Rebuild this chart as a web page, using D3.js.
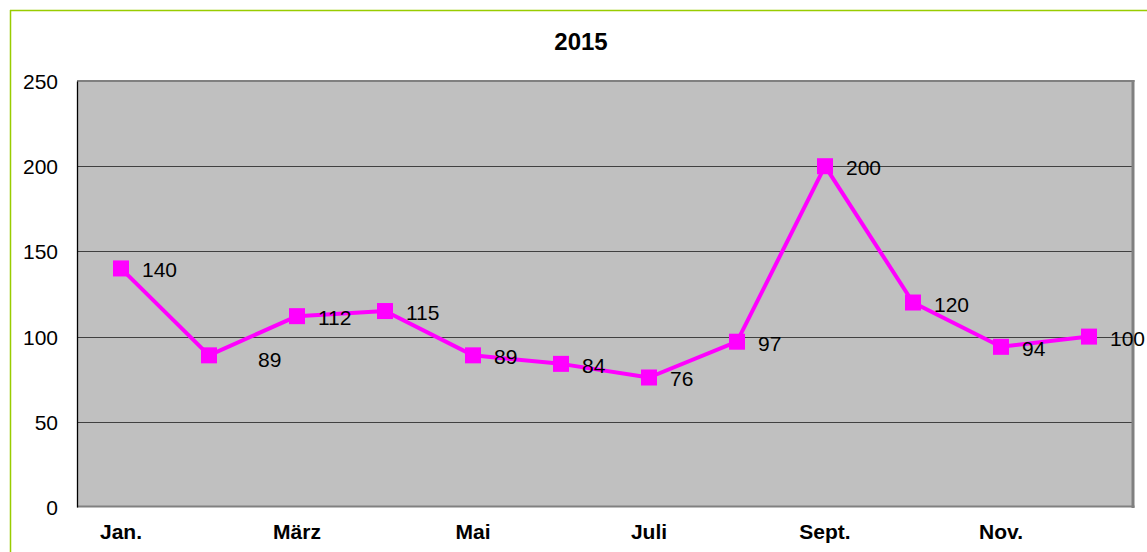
<!DOCTYPE html>
<html>
<head>
<meta charset="utf-8">
<script src="https://cdn.jsdelivr.net/npm/d3@7"></script>
<style>
  html, body { margin: 0; padding: 0; background: #ffffff; }
  svg { display: block; font-family: "Liberation Sans", Arial, sans-serif; }
</style>
</head>
<body>
<svg id="chart" width="1147" height="552"></svg>
<script>
// ---- data ----
const title = "2015";
const months = ["Jan.", "Feb.", "März", "April", "Mai", "Juni", "Juli", "Aug.", "Sept.", "Okt.", "Nov.", "Dez."];
const values = [140, 89, 112, 115, 89, 84, 76, 97, 200, 120, 94, 100];
const yTicks = [0, 50, 100, 150, 200, 250];

// ---- layout ----
const W = 1147, H = 552;
const plot = { left: 77, right: 1133, top: 81, bottom: 507 };
const labelNudges = { 1: [28, 2.5] }; // data-label placement tweak (Feb.)

const svg = d3.select("#chart");

// outer frame (green lines at top and left)
svg.append("line").attr("x1", 10).attr("y1", 10.5).attr("x2", W).attr("y2", 10.5)
  .attr("stroke", "#99cc00").attr("stroke-width", 1.5);
svg.append("line").attr("x1", 10.5).attr("y1", 10).attr("x2", 10.5).attr("y2", H)
  .attr("stroke", "#99cc00").attr("stroke-width", 1.5);

const x = d3.scaleBand().domain(months).range([plot.left, plot.right]).padding(0);
const y = d3.scaleLinear().domain([0, 250]).range([plot.bottom, plot.top]);
const cx = m => x(m) + x.bandwidth() / 2;

// plot area background
svg.append("rect")
  .attr("x", plot.left).attr("y", plot.top)
  .attr("width", plot.right - plot.left).attr("height", plot.bottom - plot.top)
  .attr("fill", "#c0c0c0");

// gridlines
svg.append("g").selectAll("line")
  .data(yTicks.filter(t => t > 0 && t < 250))
  .join("line")
  .attr("x1", plot.left).attr("x2", plot.right)
  .attr("y1", d => Math.round(y(d)) + 0.5).attr("y2", d => Math.round(y(d)) + 0.5)
  .attr("stroke", "#404040").attr("stroke-width", 1);

// plot area border (gray top/right/bottom)
svg.append("line").attr("x1", plot.left).attr("x2", plot.right + 1.5)
  .attr("y1", plot.top).attr("y2", plot.top).attr("stroke", "#808080").attr("stroke-width", 2);
svg.append("line").attr("x1", plot.right).attr("x2", plot.right)
  .attr("y1", plot.top - 1).attr("y2", plot.bottom + 1).attr("stroke", "#808080").attr("stroke-width", 3);
svg.append("line").attr("x1", plot.left).attr("x2", plot.right + 1.5)
  .attr("y1", plot.bottom - 0.5).attr("y2", plot.bottom - 0.5).attr("stroke", "#808080").attr("stroke-width", 2);

// y axis
const yAxis = svg.append("g")
  .attr("transform", `translate(${plot.left},0)`)
  .call(d3.axisLeft(y).tickValues(yTicks).tickSize(0).tickPadding(19));
yAxis.select(".domain").attr("stroke", "#000").attr("stroke-width", 1.3);
yAxis.selectAll("text").attr("font-size", 21).attr("fill", "#000")
  .attr("font-family", "Liberation Sans, Arial, sans-serif").attr("dy", "0.36em");

// x axis
const xAxis = svg.append("g")
  .attr("transform", `translate(0,${plot.bottom})`)
  .call(d3.axisBottom(x).tickSize(0).tickPadding(17)
    .tickFormat((d, i) => i % 2 === 0 ? d : ""));
xAxis.select(".domain").remove();
xAxis.selectAll("text").attr("font-size", 21).attr("font-weight", "bold").attr("fill", "#000")
  .attr("font-family", "Liberation Sans, Arial, sans-serif");

// title
svg.append("text").attr("x", 581).attr("y", 50).attr("text-anchor", "middle")
  .attr("font-size", 24).attr("font-weight", "bold").attr("fill", "#000").text(title);

// line
const data = months.map((m, i) => ({ m, v: values[i], i }));
svg.append("path").datum(data)
  .attr("fill", "none").attr("stroke", "#ff00ff").attr("stroke-width", 4)
  .attr("stroke-linejoin", "round")
  .attr("d", d3.line().x(d => cx(d.m)).y(d => y(d.v)));

// markers
const ms = 16;
svg.append("g").selectAll("rect").data(data).join("rect")
  .attr("x", d => cx(d.m) - ms / 2).attr("y", d => y(d.v) - ms / 2)
  .attr("width", ms).attr("height", ms).attr("fill", "#ff00ff");

// data labels
svg.append("g").selectAll("text").data(data).join("text")
  .attr("x", d => cx(d.m) + 21 + (labelNudges[d.i] ? labelNudges[d.i][0] : 0))
  .attr("y", d => y(d.v) + 9 + (labelNudges[d.i] ? labelNudges[d.i][1] : 0))
  .attr("font-size", 21).attr("fill", "#000")
  .text(d => d.v);
</script>
</body>
</html>
